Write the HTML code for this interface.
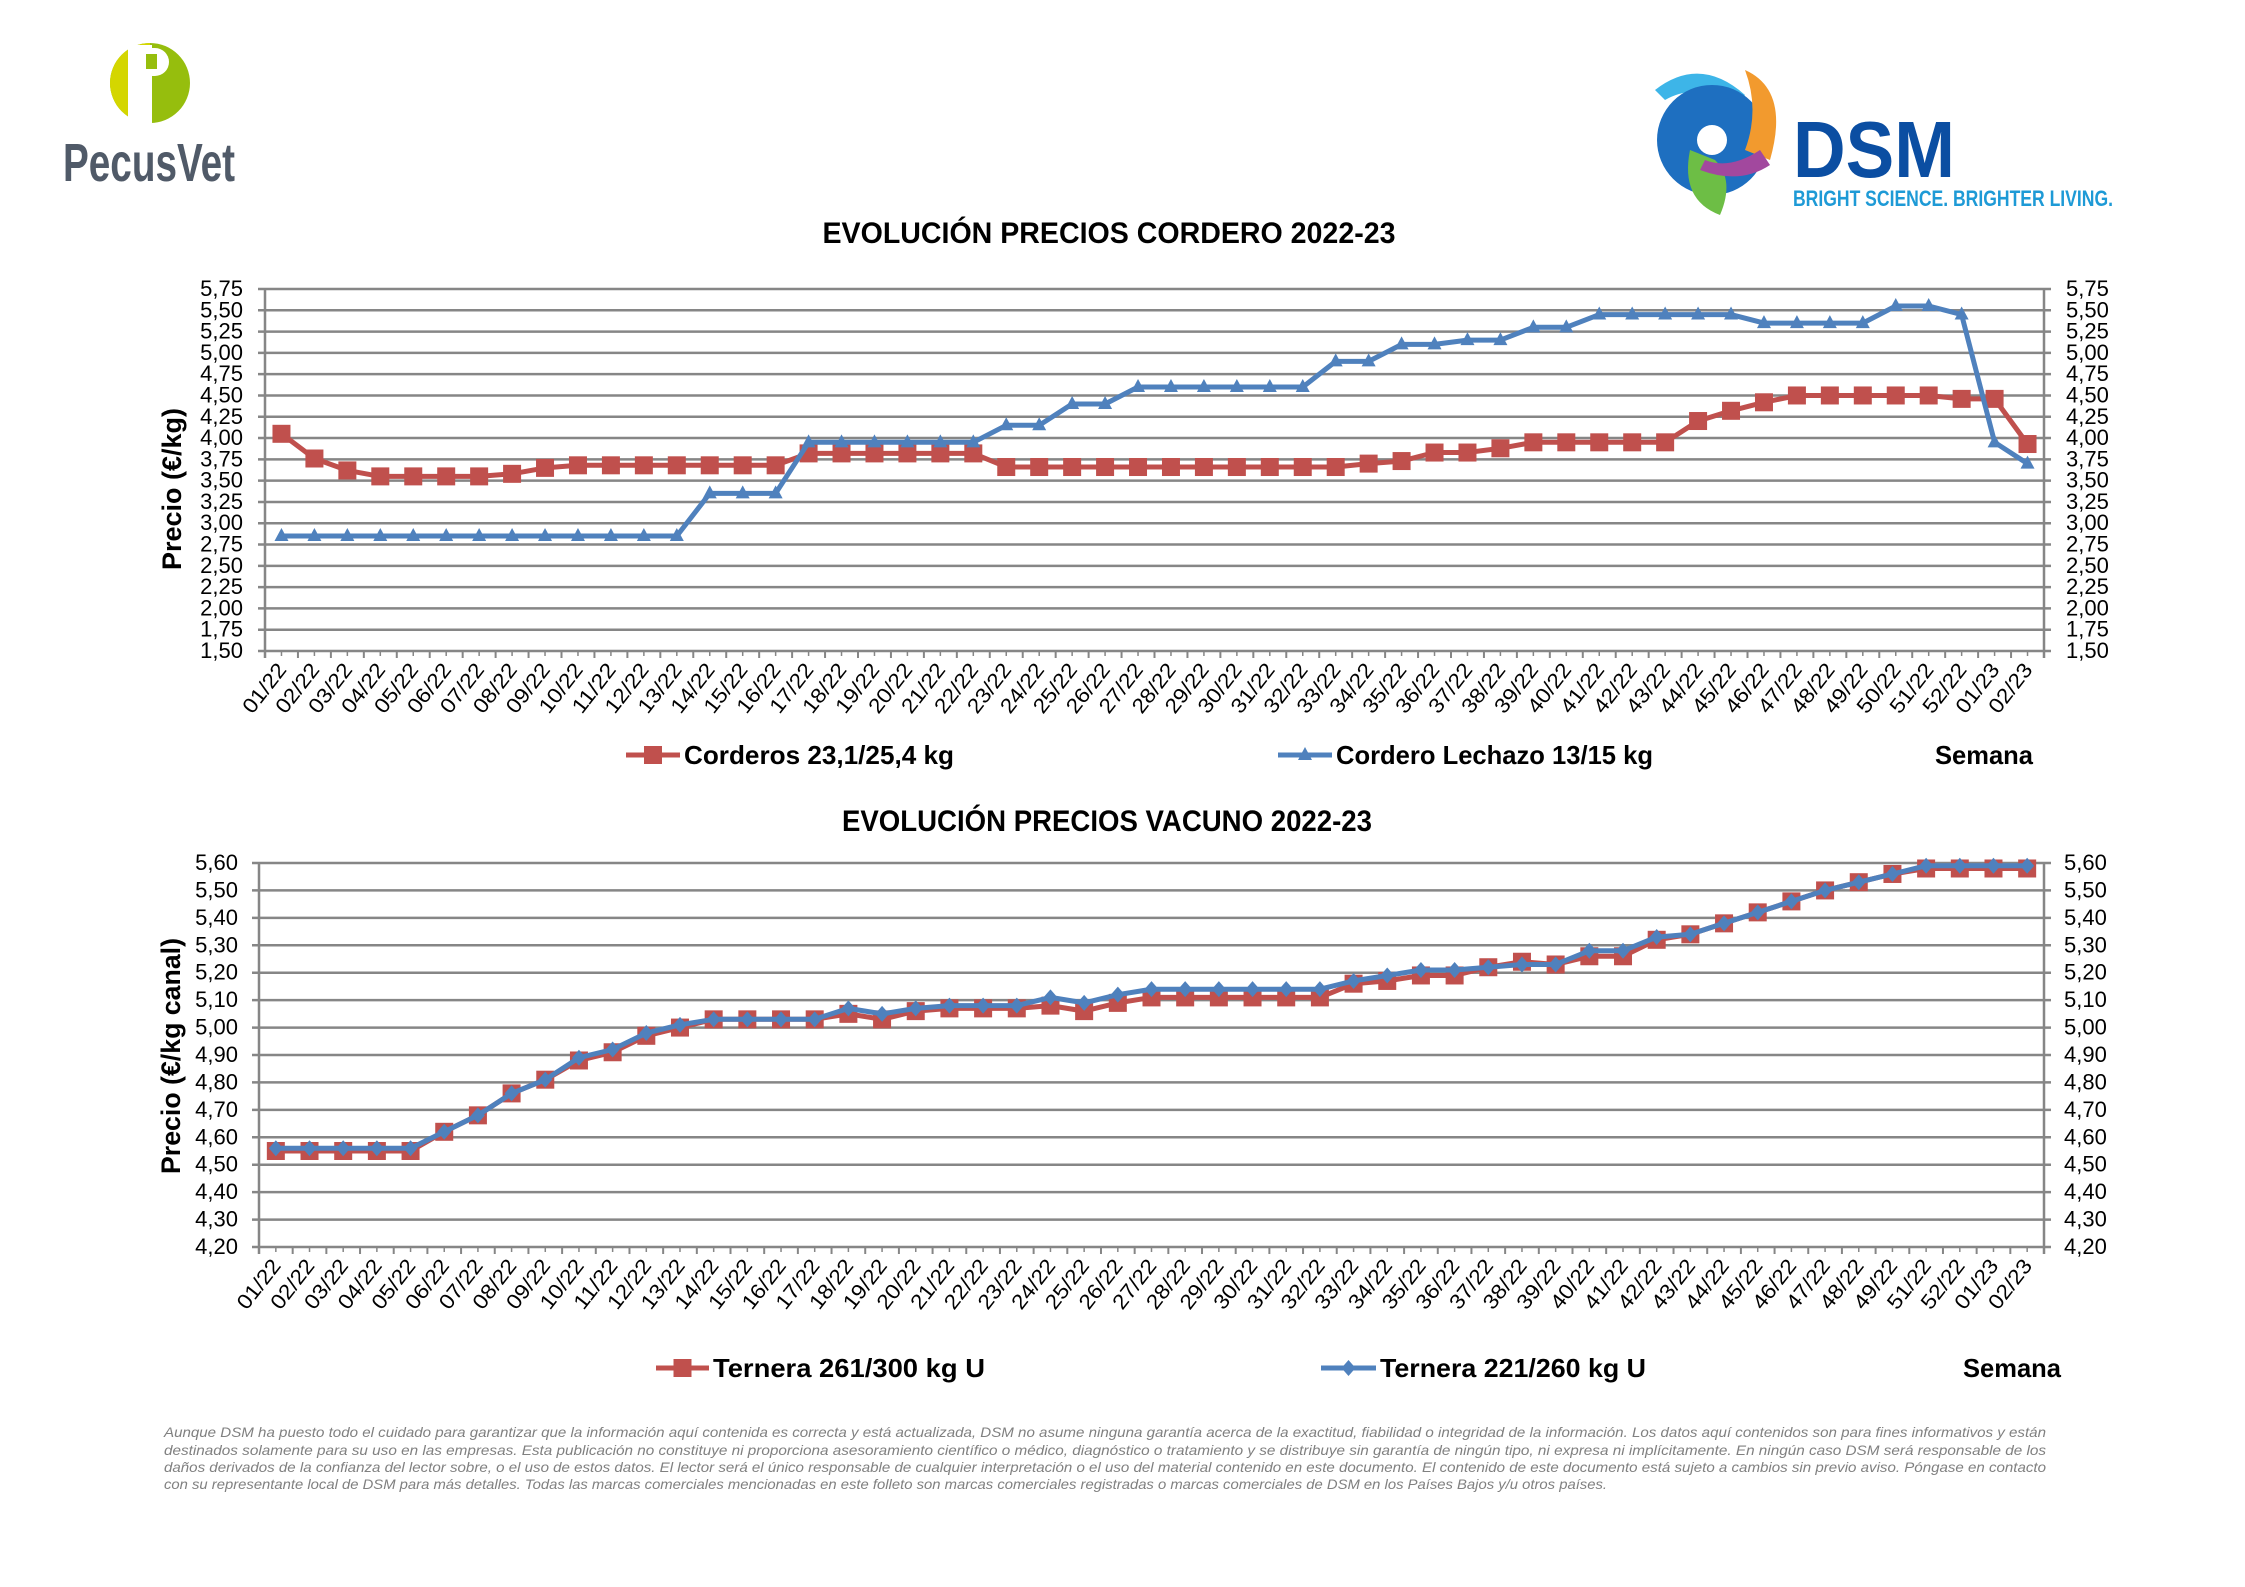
<!DOCTYPE html>
<html><head><meta charset="utf-8"><style>
html,body{margin:0;padding:0;background:#fff;}
svg{display:block;font-family:"Liberation Sans",sans-serif;}
</style></head><body>
<svg id="s" width="2245" height="1587" viewBox="0 0 2245 1587" xmlns="http://www.w3.org/2000/svg">
<!-- PecusVet logo -->
<circle cx="150" cy="83" r="40" fill="#96BE0D"/>
<path d="M150 43 A40 40 0 0 0 150 123 Z" fill="#D4D600"/>
<rect x="128" y="44" width="9" height="80" fill="#fff"/>
<rect x="137" y="45" width="15" height="78" fill="#fff"/>
<path d="M137 48 h18 a14 14 0 0 1 0 28 h-18 z" fill="#fff"/>
<rect x="146" y="54" width="11" height="15" fill="#96BE0D"/>
<text x="63" y="181" font-size="54" font-weight="bold" fill="#505A68" textLength="172" lengthAdjust="spacingAndGlyphs">PecusVet</text>
<!-- DSM logo -->
<path d="M1655 90 Q1700 55 1745 95 L1735 110 Q1700 80 1665 100 Z" fill="#3DB5E8"/>
<circle cx="1712" cy="140" r="55" fill="#1E6FC0"/>
<path d="M1745 70 Q1790 90 1770 160 L1745 150 Q1760 110 1745 70Z" fill="#F29A2E"/>
<path d="M1690 150 Q1680 200 1720 215 Q1735 180 1715 160Z" fill="#6DBE45"/>
<path d="M1700 170 Q1740 185 1770 165 L1760 150 Q1730 170 1705 160Z" fill="#A2489E"/>
<circle cx="1712" cy="140" r="15" fill="#fff"/>
<text x="1793" y="177" font-size="80" font-weight="bold" fill="#0B4EA2" textLength="162" lengthAdjust="spacingAndGlyphs">DSM</text>
<text x="1793" y="206" font-size="22" font-weight="bold" fill="#1E9AD6" textLength="320" lengthAdjust="spacingAndGlyphs">BRIGHT SCIENCE. BRIGHTER LIVING.</text>
<g id="c"></g>
<g font-style="italic" font-size="14" fill="#808080">
<text x="164" y="1437" textLength="1882" lengthAdjust="spacingAndGlyphs">Aunque DSM ha puesto todo el cuidado para garantizar que la información aquí contenida es correcta y está actualizada, DSM no asume ninguna garantía acerca de la exactitud, fiabilidad o integridad de la información. Los datos aquí contenidos son para fines informativos y están</text>
<text x="164" y="1455" textLength="1882" lengthAdjust="spacingAndGlyphs">destinados solamente para su uso en las empresas. Esta publicación no constituye ni proporciona asesoramiento científico o médico, diagnóstico o tratamiento y se distribuye sin garantía de ningún tipo, ni expresa ni implícitamente. En ningún caso DSM será responsable de los</text>
<text x="164" y="1472" textLength="1882" lengthAdjust="spacingAndGlyphs">daños derivados de la confianza del lector sobre, o el uso de estos datos. El lector será el único responsable de cualquier interpretación o el uso del material contenido en este documento. El contenido de este documento está sujeto a cambios sin previo aviso. Póngase en contacto</text>
<text x="164" y="1489" textLength="1443" lengthAdjust="spacingAndGlyphs">con su representante local de DSM para más detalles. Todas las marcas comerciales mencionadas en este folleto son marcas comerciales registradas o marcas comerciales de DSM en los Países Bajos y/u otros países.</text>
</g>
</svg>
<script>
var NS="http://www.w3.org/2000/svg",G=document.getElementById("c");
function el(t,a,txt){var e=document.createElementNS(NS,t);for(var k in a)e.setAttribute(k,a[k]);if(txt!==undefined)e.textContent=txt;G.appendChild(e);return e;}
var RED="#C0504D",BLUE="#4F81BD",GR="#868686";
function fmt(v){return v.toFixed(2).replace(".",",");}
function rep(v,n){var a=[];for(var i=0;i<n;i++)a.push(v);return a;}
function chart(o){
 var n=o.labels.length,step=(o.x1-o.x0)/n;
 var Y=function(v){return o.yb-(v-o.vmin)/(o.vmax-o.vmin)*(o.yb-o.yt);};
 var X=function(i){return o.x0+(i+0.5)*step;};
 for(var v=o.vmin;v<=o.vmax+1e-9;v+=o.vstep){var y=Y(v);
  el("line",{x1:o.x0-7,x2:o.x1+7,y1:y,y2:y,stroke:GR,"stroke-width":2.5});
  el("text",{x:o.lx,y:y+7,"font-size":22,"text-anchor":"end",fill:"#000"},fmt(v));
  el("text",{x:o.rx,y:y+7,"font-size":22,fill:"#000"},fmt(v));}
 el("line",{x1:o.x0,x2:o.x0,y1:o.yt,y2:o.yb+7,stroke:GR,"stroke-width":2.5});
 el("line",{x1:o.x1,x2:o.x1,y1:o.yt,y2:o.yb+7,stroke:GR,"stroke-width":2.5});
 for(var i=0;i<=n;i++){var x=o.x0+i*step;el("line",{x1:x,x2:x,y1:o.yb,y2:o.yb+7,stroke:GR,"stroke-width":2});
  if(i<n){var xm=x+step/2;el("line",{x1:xm,x2:xm,y1:o.yb,y2:o.yb+5,stroke:GR,"stroke-width":1.5});}}
 for(var i=0;i<n;i++){var tx=X(i)+6,ty=o.yb+19;
  el("text",{x:tx,y:ty,"font-size":21,"text-anchor":"end",transform:"rotate(-52 "+tx+" "+ty+")",textLength:57,lengthAdjust:"spacingAndGlyphs"},o.labels[i]);}
 o.series.forEach(function(s){
  var pts=s.d.map(function(v,i){return X(i).toFixed(1)+","+Y(v).toFixed(1);}).join(" ");
  el("polyline",{points:pts,fill:"none",stroke:s.c,"stroke-width":5,"stroke-linejoin":"round"});
  s.d.forEach(function(v,i){mark(s.m,X(i),Y(v),s.c);});
 });
}
function mark(m,x,y,c){
 if(m=="sq")el("rect",{x:x-9,y:y-9,width:18,height:18,fill:c});
 else if(m=="tri")el("polygon",{points:(x-7)+","+(y+5)+" "+(x+7)+","+(y+5)+" "+x+","+(y-8),fill:c});
 else el("polygon",{points:x+","+(y-8)+" "+(x+7)+","+y+" "+x+","+(y+8)+" "+(x-7)+","+y,fill:c});
}
function legend(x1,x2,y,c,m,txt,tx,tw){el("line",{x1:x1,x2:x2,y1:y,y2:y,stroke:c,"stroke-width":5});mark(m,(x1+x2)/2,y,c);
 el("text",{x:tx,y:y+9,"font-size":26,"font-weight":"bold",textLength:tw,lengthAdjust:"spacingAndGlyphs"},txt);}
var L1=[];for(var i=1;i<=52;i++)L1.push((i<10?"0":"")+i+"/22");L1.push("01/23","02/23");
var red1=[4.05,3.76,3.62,3.55,3.55,3.55,3.55,3.58,3.65,3.68,3.68,3.68,3.68,3.68,3.68,3.68].concat(rep(3.82,6),rep(3.66,11),[3.70,3.73,3.83,3.83,3.88,3.95,3.95,3.95,3.95,3.95,4.20,4.32,4.42,4.50,4.50,4.50,4.50,4.50,4.46,4.46,3.93]);
var blue1=rep(2.85,13).concat(rep(3.35,3),rep(3.95,6),[4.15,4.15,4.40,4.40],rep(4.60,6),[4.90,4.90,5.10,5.10,5.15,5.15,5.30,5.30],rep(5.45,5),rep(5.35,4),[5.55,5.55,5.45,3.95,3.70]);
el("text",{x:1109,y:243,"font-size":30,"font-weight":"bold","text-anchor":"middle",textLength:573,lengthAdjust:"spacingAndGlyphs"},"EVOLUCIÓN PRECIOS CORDERO 2022-23");
el("text",{x:1107,y:831,"font-size":30,"font-weight":"bold","text-anchor":"middle",textLength:530,lengthAdjust:"spacingAndGlyphs"},"EVOLUCIÓN PRECIOS VACUNO 2022-23");
el("text",{x:181,y:489,"font-size":27,"font-weight":"bold","text-anchor":"middle",transform:"rotate(-90 181 489)",textLength:162,lengthAdjust:"spacingAndGlyphs"},"Precio (€/kg)");
el("text",{x:180,y:1056,"font-size":27,"font-weight":"bold","text-anchor":"middle",transform:"rotate(-90 180 1056)",textLength:236,lengthAdjust:"spacingAndGlyphs"},"Precio (€/kg canal)");
chart({labels:L1,x0:265,x1:2044,yt:289,yb:651,vmin:1.5,vmax:5.75,vstep:0.25,lx:243,rx:2066,
 series:[{d:red1,c:RED,m:"sq"},{d:blue1,c:BLUE,m:"tri"}]});
legend(626,680,755,RED,"sq","Corderos 23,1/25,4 kg",684,270);
legend(1278,1332,755,BLUE,"tri","Cordero Lechazo 13/15 kg",1336,317);
el("text",{x:1935,y:764,"font-size":26,"font-weight":"bold",textLength:98,lengthAdjust:"spacingAndGlyphs"},"Semana");
var L2=[];for(var i=1;i<=49;i++)L2.push((i<10?"0":"")+i+"/22");L2.push("51/22","52/22","01/23","02/23");
var red2=rep(4.55,5).concat([4.62,4.68,4.76,4.81,4.88,4.91,4.97,5.00,5.03,5.03,5.03,5.03,5.05,5.03,5.06,5.07,5.07,5.07,5.08,5.06,5.09],rep(5.11,6),[5.16,5.17,5.19,5.19,5.22,5.24,5.23,5.26,5.26,5.32,5.34,5.38,5.42,5.46,5.50,5.53,5.56,5.58,5.58,5.58,5.58]);
var blue2=rep(4.56,5).concat([4.62,4.68,4.76,4.81,4.89,4.92,4.98,5.01,5.03,5.03,5.03,5.03,5.07,5.05,5.07,5.08,5.08,5.08,5.11,5.09,5.12],rep(5.14,6),[5.17,5.19,5.21,5.21,5.22,5.23,5.23,5.28,5.28,5.33,5.34,5.38,5.42,5.46,5.50,5.53,5.56,5.59,5.59,5.59,5.59]);
chart({labels:L2,x0:259,x1:2044,yt:863,yb:1247,vmin:4.2,vmax:5.6,vstep:0.1,lx:238,rx:2064,
 series:[{d:red2,c:RED,m:"sq"},{d:blue2,c:BLUE,m:"dia"}]});
legend(656,709,1368,RED,"sq","Ternera 261/300 kg U",713,272);
legend(1321,1376,1368,BLUE,"dia","Ternera 221/260 kg U",1380,266);
el("text",{x:1963,y:1377,"font-size":26,"font-weight":"bold",textLength:98,lengthAdjust:"spacingAndGlyphs"},"Semana");
</script>
</body></html>
